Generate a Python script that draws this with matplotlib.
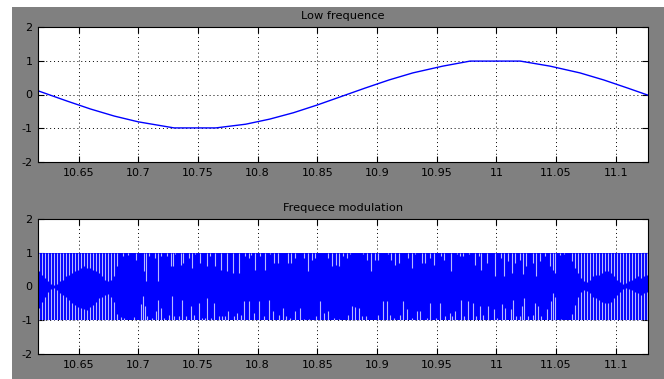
import matplotlib
matplotlib.use("Agg")
import matplotlib.pyplot as plt
from matplotlib.patches import Rectangle

plt.rcParams['font.family'] = ['DejaVu Sans']

# ---------------- data ----------------
titles = ["Low frequence", "Frequece modulation"]
x_limits = [10.616, 11.127]
y_ticks = [-2, -1, 0, 1, 2]
x_ticks = [10.65, 10.7, 10.75, 10.8, 10.85, 10.9, 10.95, 11.0, 11.05, 11.1]
x_tick_labels = ["10.65", "10.7", "10.75", "10.8", "10.85", "10.9", "10.95", "11", "11.05", "11.1"]

# low-frequency message
low_t = [10.616, 10.64, 10.66, 10.68, 10.70, 10.73, 10.765, 10.79, 10.81, 10.83,
         10.85, 10.87, 10.89, 10.91, 10.93, 10.955, 10.978, 11.02, 11.045, 11.07,
         11.09, 11.11, 11.127]
low_v = [0.11, -0.19, -0.43, -0.64, -0.81, -0.99, -0.99, -0.88, -0.73, -0.54,
         -0.31, -0.06, 0.19, 0.43, 0.64, 0.84, 0.99, 0.99, 0.84, 0.64,
         0.43, 0.19, -0.02]

# FM signal: dense band between -amplitude and +amplitude ...
fm_span_t = [10.616, 11.127]
fm_amplitude = 1.0

# ... with visible gaps hanging from the top edge (time, lower end of gap)
gap_top_t = [
    10.617, 10.6195, 10.622, 10.6245, 10.627, 10.6295, 10.632, 10.6345, 10.637, 10.6395,
    10.642, 10.6445, 10.647, 10.6495, 10.652, 10.6545, 10.657, 10.6595, 10.662, 10.6645,
    10.667, 10.6695, 10.672, 10.6745, 10.677, 10.6795, 10.682,
    10.6874, 10.691, 10.698,
    10.7048, 10.7068, 10.709, 10.714, 10.7168, 10.7188, 10.7244, 10.7272, 10.7291, 10.7308,
    10.7356, 10.7378, 10.7425, 10.7448, 10.7476, 10.7518, 10.7579, 10.7599, 10.7643, 10.7691,
    10.7746, 10.7794, 10.7844,
    10.7892, 10.7926, 10.7948, 10.7976, 10.8023, 10.806, 10.8107, 10.8141, 10.8169, 10.8252,
    10.828, 10.8311, 10.8386, 10.8422, 10.8456, 10.8478, 10.859, 10.8623, 10.866, 10.8685,
    10.8715,
    10.8747, 10.8775, 10.8886, 10.8914, 10.895, 10.8979, 10.9006, 10.909, 10.9118, 10.9152,
    10.9185, 10.9258, 10.9291, 10.9319, 10.9375, 10.9403, 10.9444, 10.9481, 10.9537, 10.9564,
    10.9618, 10.9666, 10.9694, 10.9722, 10.9769, 10.9819, 10.9853, 10.9869, 10.9925, 10.9987,
    11.0037, 11.0062, 11.0098, 11.0132, 11.0154, 11.0196, 11.0224, 11.0252, 11.0307, 11.0335,
    11.0363, 11.041, 11.0447,
    11.0473, 11.0492, 11.0529, 11.057,
    11.0635, 11.066, 11.0685, 11.071, 11.0735, 11.076, 11.0785, 11.081, 11.0835, 11.086,
    11.0885, 11.091, 11.0935, 11.096, 11.0985, 11.101, 11.1035, 11.106, 11.1085, 11.111,
    11.1135, 11.116, 11.1185, 11.121, 11.1235, 11.126]
gap_top_end = [
    0.45, 0.35, 0.25, 0.15, 0.08, 0.05, 0.08, 0.15, 0.2, 0.3,
    0.35, 0.4, 0.45, 0.5, 0.55, 0.6, 0.55, 0.55, 0.5, 0.45,
    0.4, 0.3, 0.2, 0.15, 0.2, 0.3, 0.6,
    0.9, 0.93, 0.8,
    0.46, 0.16, 0.9, 0.85, 0.16, 0.9, 0.9, 0.6, 0.6, 0.95,
    0.65, 0.7, 0.85, 0.55, 0.95, 0.7, 0.6, 0.9, 0.6, 0.5,
    0.46, 0.4, 0.4,
    0.9, 0.85, 0.93, 0.5, 0.9, 0.5, 0.95, 0.7, 0.7, 0.7,
    0.7, 0.85, 0.85, 0.46, 0.8, 0.85, 0.85, 0.6, 0.65, 0.6,
    0.9,
    0.85, 0.95, 0.95, 0.8, 0.46, 0.8, 0.8, 0.95, 0.8, 0.65,
    0.7, 0.85, 0.55, 0.95, 0.7, 0.7, 0.85, 0.65, 0.9, 0.8,
    0.46, 0.95, 0.9, 0.9, 0.95, 0.65, 0.9, 0.5, 0.7, 0.3,
    0.85, 0.3, 0.75, 0.4, 0.7, 0.8, 0.36, 0.6, 0.7, 0.3,
    0.75, 0.9, 0.6,
    0.5, 0.4, 0.93, 0.95,
    0.75, 0.55, 0.4, 0.25, 0.15, 0.12, 0.2, 0.3, 0.35, 0.35,
    0.4, 0.45, 0.45, 0.4, 0.3, 0.2, 0.12, 0.08, 0.1, 0.15,
    0.2, 0.25, 0.3, 0.25, 0.3, 0.35]

# ... and gaps rising from the bottom edge (time, upper end of gap)
gap_bot_t = [
    10.617, 10.6195, 10.622, 10.6245, 10.627, 10.6295, 10.632, 10.6345, 10.637, 10.6395,
    10.642, 10.6445, 10.647, 10.6495, 10.652, 10.6545, 10.657, 10.6595, 10.662, 10.6645,
    10.667, 10.6695, 10.672, 10.6745, 10.677, 10.6795, 10.682,
    10.6855, 10.6882, 10.6966,
    10.7021, 10.704, 10.7057, 10.7076, 10.7118, 10.7146, 10.7168, 10.7188, 10.7216, 10.7258,
    10.728, 10.730, 10.7342, 10.7369, 10.7398, 10.744, 10.7467, 10.7509, 10.7532, 10.7559,
    10.7579, 10.7607, 10.7635, 10.7677, 10.7704, 10.7727, 10.7755, 10.7802, 10.783, 10.7859,
    10.7884, 10.7931, 10.7968, 10.8015, 10.8051, 10.8099, 10.8127, 10.8177, 10.821, 10.8238,
    10.8275, 10.8316, 10.8353, 10.8386, 10.8428, 10.8489, 10.852, 10.8554, 10.8587, 10.8637,
    10.8685,
    10.8755, 10.8789, 10.8817, 10.885, 10.8878, 10.8906, 10.9012, 10.9048, 10.9082, 10.911,
    10.9146, 10.9193, 10.9221, 10.9249, 10.9291, 10.9333, 10.9361, 10.9417, 10.9444, 10.9492,
    10.9528, 10.957,
    10.961, 10.9629, 10.9657, 10.9702, 10.973, 10.9758, 10.9805, 10.9833, 10.9861, 10.9889,
    10.9931, 10.9978, 11.0003, 11.0051, 11.0076, 11.012, 11.014, 11.0168, 11.0196, 11.0215,
    11.0232, 11.0266, 11.0307, 11.0327, 11.0349, 11.0377, 11.0428, 11.0455,
    11.0473, 11.0492, 11.0543,
    11.0635, 11.066, 11.0685, 11.071, 11.0735, 11.076, 11.0785, 11.081, 11.0835, 11.086,
    11.0885, 11.091, 11.0935, 11.096, 11.0985, 11.101, 11.1035, 11.106, 11.1085, 11.111,
    11.1135, 11.116, 11.1185, 11.121, 11.1235, 11.126]
gap_bot_end = [
    -0.65, -0.45, -0.3, -0.15, -0.07, -0.05, -0.1, -0.18, -0.25, -0.3,
    -0.4, -0.5, -0.55, -0.6, -0.65, -0.68, -0.7, -0.62, -0.55, -0.45,
    -0.35, -0.3, -0.25, -0.22, -0.3, -0.45, -0.8,
    -0.9, -0.93, -0.9,
    -0.53, -0.29, -0.58, -0.88, -0.93, -0.73, -0.39, -0.63, -0.93, -0.83,
    -0.29, -0.88, -0.88, -0.39, -0.88, -0.58, -0.83, -0.49, -0.93, -0.93,
    -0.34, -0.93, -0.49, -0.88, -0.88, -0.88, -0.73, -0.88, -0.78, -0.83,
    -0.44, -0.44, -0.78, -0.44, -0.88, -0.39, -0.73, -0.83, -0.63, -0.88,
    -0.93, -0.73, -0.63, -0.95, -0.95, -0.88, -0.44, -0.78, -0.73, -0.93,
    -0.95,
    -0.83, -0.58, -0.61, -0.65, -0.88, -0.88, -0.83, -0.44, -0.44, -0.83,
    -0.93, -0.83, -0.44, -0.68, -0.93, -0.73, -0.73, -0.93, -0.49, -0.93,
    -0.49, -0.88,
    -0.78, -0.88, -0.73, -0.39, -0.88, -0.44, -0.49, -0.88, -0.58, -0.83,
    -0.58, -0.68, -0.93, -0.53, -0.63, -0.68, -0.39, -0.88, -0.88, -0.58,
    -0.34, -0.88, -0.83, -0.49, -0.58, -0.88, -0.68, -0.44,
    -0.2, -0.3, -0.95,
    -0.8, -0.55, -0.3, -0.15, -0.1, -0.12, -0.2, -0.3, -0.35, -0.4,
    -0.45, -0.5, -0.5, -0.45, -0.35, -0.25, -0.15, -0.08, -0.05, -0.06,
    -0.1, -0.15, -0.2, -0.25, -0.2, -0.15]

# ---------------- figure ----------------
W, H = 664, 379
fig = plt.figure(figsize=(W / 100, H / 100), dpi=100, facecolor="white")
fig.patches.append(Rectangle((12 / W, 0), 1 - 12 / W, 1 - 7 / H,
                             transform=fig.transFigure, facecolor="#808080",
                             edgecolor="none", zorder=-10))

ax_left = 38 / W
ax_w = (648 - 38) / W
ax_h = (162 - 27) / H
ax1 = fig.add_axes([ax_left, 1 - 162 / H, ax_w, ax_h])
ax2 = fig.add_axes([ax_left, 1 - 354 / H, ax_w, ax_h])

blue = "#0000ff"
gap_color = "#b8b8ff"

ax1.plot(low_t, low_v, color=blue, lw=1.0, zorder=3)

ax2.fill_between(fm_span_t, -fm_amplitude, fm_amplitude, color=blue, lw=0, zorder=2)
ax2.vlines(gap_top_t, gap_top_end, fm_amplitude, colors=gap_color, lw=0.8, zorder=3)
ax2.vlines(gap_bot_t, -fm_amplitude, gap_bot_end, colors=gap_color, lw=0.8, zorder=3)

for ax, title in zip([ax1, ax2], titles):
    ax.set_facecolor("white")
    ax.set_xlim(x_limits)
    ax.set_ylim(-2, 2)
    ax.set_yticks(y_ticks)
    ax.set_yticklabels([str(v) for v in y_ticks])
    ax.set_xticks(x_ticks)
    ax.set_xticklabels(x_tick_labels)
    ax.tick_params(direction="in", length=4, width=0.8, labelsize=8,
                   colors="black", pad=4, top=True, right=True)
    ax.set_axisbelow(True)
    ax.grid(True, color="black", linestyle=(0, (1, 3)), linewidth=0.7)
    for sp in ax.spines.values():
        sp.set_color("black")
        sp.set_linewidth(0.8)
        sp.set_zorder(5)
    ax.set_title(title, fontsize=8.2, color="black", pad=6)

fig.savefig("out.png", dpi=100, facecolor=fig.get_facecolor())
